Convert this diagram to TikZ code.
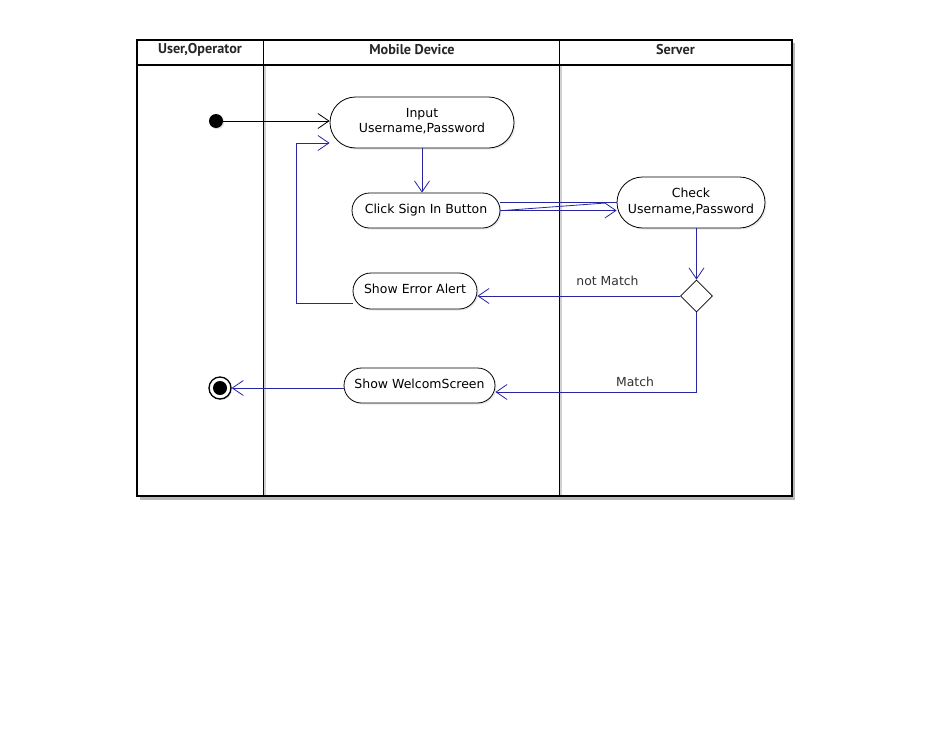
\documentclass[tikz,border=0pt]{standalone}
\usepackage{fontspec}
\setmainfont{DejaVu Sans}
\newfontfamily\headfont{PT Sans}
\usetikzlibrary{arrows.meta,shapes.geometric,shadows,calc}

\definecolor{flow}{RGB}{38,38,160}
\definecolor{labelgray}{RGB}{50,50,50}

\begin{document}
\begin{tikzpicture}[x=1pt,y=-1pt,
  frame/.style={line width=1.4pt},
  lanesep/.style={line width=1.1pt},
  lanehead/.style={font=\headfont\bfseries\fontsize{14.2}{16}\selectfont, text=black!85, inner sep=0pt},
  act/.style={draw, line width=0.8pt, fill=white, align=center, inner sep=0pt,
    font=\fontsize{12.5}{15.5}\selectfont,
    drop shadow={opacity=0.18, shadow xshift=1.5pt, shadow yshift=-1.5pt}},
  opentip/.style={-{Straight Barb[length=11pt,width=15pt]}},
  ctrl/.style={line width=0.8pt, opentip},
  flowline/.style={draw=flow, line width=0.8pt},
  guard/.style={font=\fontsize{12.4}{14}\selectfont, text=labelgray, inner sep=0pt},
]
\useasboundingbox (0,0) rectangle (928,728);

% swimlane frame with its shadow
\fill[black!28] (140,43) rectangle (795,499.5);
\draw[frame, fill=white] (137,40) rectangle (792,496);
\draw[black!18, line width=1.4pt] (264.8,66) -- (264.8,495);
\draw[black!18, line width=1.4pt] (560.8,66) -- (560.8,495);
\draw[lanesep] (137,65) -- (792,65);
\draw[lanesep] (263.5,40) -- (263.5,496);
\draw[lanesep] (559.5,40) -- (559.5,496);

\node[lanehead] (h1) at (200,50) {User,Operator};
\node[lanehead] (h2) at (412,50) {Mobile Device};
\node[lanehead] (h3) at (675.5,50) {Server};

% activities
\node[act, minimum width=184, minimum height=51, rounded corners=25.5] (input) at (422,122.5) {Input\\Username,Password\rule[-4pt]{0pt}{4pt}};
\node[act, minimum width=148, minimum height=35, rounded corners=17.5] (click) at (426,210.5) {Click Sign In Button\rule[-3pt]{0pt}{3pt}};
\node[act, minimum width=148, minimum height=51, rounded corners=25.5] (check) at (691,202.5) {Check\\Username,Password\rule[-4pt]{0pt}{4pt}};
\node[act, minimum width=124, minimum height=36, rounded corners=18] (error) at (415,291) {Show Error Alert\rule[-4pt]{0pt}{4pt}};
\node[act, minimum width=151, minimum height=35, rounded corners=17.5] (welcome) at (419.5,385.5) {Show WelcomScreen\rule[-3pt]{0pt}{3pt}};

% initial, final and decision nodes
\node[circle, fill=black, minimum size=14, inner sep=0pt,
  drop shadow={opacity=0.25, shadow xshift=1.2pt, shadow yshift=-1.2pt}] (start) at (216,121) {};
\node[circle, draw, line width=1.3pt, fill=white, minimum size=22, inner sep=0pt,
  drop shadow={opacity=0.25, shadow xshift=1.2pt, shadow yshift=-1.2pt}] (end) at (220,388) {};
\fill (end.center) circle (7);
\node[diamond, draw, line width=0.8pt, fill=white, minimum width=32, minimum height=32, inner sep=0pt] (dec) at (696.5,296) {};

% control flows
\draw[ctrl] (start.east) -- (start.east -| input.west);
\draw[ctrl, flowline] (input.south) -- (input.south |- click.north);
\draw[flowline] (click.east |- check.center) -- (check.west);
\draw[flowline] ($(click.east)+(3,0)$) -- ($(check.west)+(-11,0.5)$);
\draw[ctrl, flowline] (click.east) -- (click.east -| check.west);
\draw[ctrl, flowline] (check.south -| dec) -- (dec.north);
\draw[ctrl, flowline] (dec.west) -- (dec.west -| error.east);
\coordinate (loopbot) at (296,303);
\coordinate (looptop) at (296,143);
\draw[ctrl, flowline] (error.west |- loopbot) -- (loopbot) -- (looptop) -- (looptop -| input.west);
\coordinate (mturn) at (696.5,392);
\draw[ctrl, flowline] (dec.south) -- (mturn) -- (mturn -| welcome.east);
\draw[ctrl, flowline] (welcome.west |- end) -- (end.east);

% guards
\node[guard] (gnot) at (607.5,280.5) {not Match};
\node[guard] (gmatch) at (635,382) {Match};
\end{tikzpicture}
\end{document}
